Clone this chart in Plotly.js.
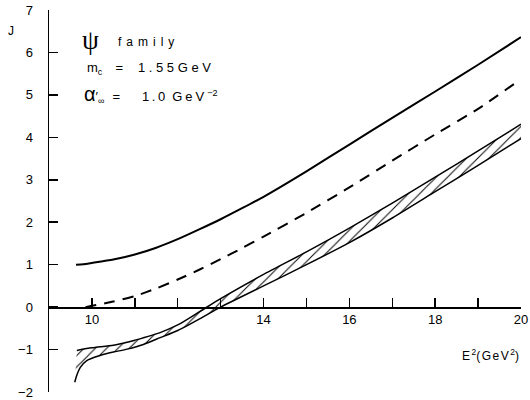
<!DOCTYPE html>
<html>
<head>
<meta charset="utf-8">
<script src="https://cdn.plot.ly/plotly-3.0.1.min.js"></script>
<style>
html,body{margin:0;padding:0;background:#fff;}
#chart{width:530px;height:400px;}
</style>
</head>
<body>
<div id="chart"></div>
<script>
// Solid curve
const solidX = [9.63, 9.8, 10, 10.5, 11, 11.5, 12, 12.5, 13, 13.5, 14, 15, 16, 17, 18, 19, 20];
const solidY = [1.0, 1.01, 1.04, 1.12, 1.24, 1.4, 1.6, 1.83, 2.07, 2.33, 2.6, 3.2, 3.83, 4.46, 5.08, 5.71, 6.36];
// Dashed curve
const dashX = [9.85, 10, 10.5, 11, 11.5, 12, 12.5, 13, 13.5, 14, 15, 16, 17, 18, 19, 19.87];
const dashY = [0.0, 0.03, 0.13, 0.26, 0.44, 0.65, 0.88, 1.13, 1.39, 1.66, 2.22, 2.82, 3.45, 4.07, 4.67, 5.28];
// Hatched band: upper edge
const bandUpX = [9.65, 10, 10.5, 10.82, 11, 11.59, 12, 12.52, 13, 14, 15, 16, 17, 18, 19, 20];
const bandUpY = [-1.02, -0.96, -0.9, -0.83, -0.78, -0.6, -0.42, -0.1, 0.2, 0.77, 1.3, 1.86, 2.45, 3.06, 3.68, 4.31];
// Hatched band: lower edge
const bandLoX = [9.6, 9.65, 9.73, 9.88, 10.19, 10.5, 10.82, 11.2, 11.59, 12, 12.52, 13, 14, 15, 16, 17, 18, 19, 20];
const bandLoY = [-1.77, -1.6, -1.42, -1.26, -1.14, -1.06, -0.99, -0.88, -0.72, -0.55, -0.27, 0.0, 0.5, 1.0, 1.52, 2.1, 2.72, 3.34, 3.97];
// Axis ticks
const xTickVals = [10, 11, 12, 13, 14, 15, 16, 17, 18, 19, 20];
const xTickText = ['10', '', '', '', '14', '', '16', '', '18', '', '20'];
const yTickVals = [-2, -1, 0, 1, 2, 3, 4, 5, 6, 7];

const xRange = [9.0, 20.0];
const yRange = [-2.0, 7.0];

const sp = {shape: 'spline', smoothing: 0.6};
const traces = [
  {x: solidX, y: solidY, mode: 'lines', line: Object.assign({color: '#000', width: 2}, sp), hoverinfo: 'skip'},
  {x: dashX, y: dashY, mode: 'lines', line: Object.assign({color: '#000', width: 2, dash: '11px,8px'}, sp), hoverinfo: 'skip'},
  {x: bandLoX, y: bandLoY, mode: 'lines', line: Object.assign({color: '#000', width: 1.5}, sp), hoverinfo: 'skip'},
  {x: bandUpX, y: bandUpY, mode: 'lines', line: Object.assign({color: '#000', width: 1.5}, sp),
   fill: 'tonexty', fillcolor: 'rgba(0,0,0,0)',
   fillpattern: {shape: '/', size: 8, solidity: 0.12, fgcolor: '#000', bgcolor: 'rgba(255,255,255,0)'},
   hoverinfo: 'skip'},
  // empty trace so the overlay axis (inward y ticks) is drawn
  {x: [], y: [], yaxis: 'y2', mode: 'lines', hoverinfo: 'skip'}
];

const fam = 'Liberation Sans, Arial, sans-serif';
const tickFont = {family: fam, size: 13, color: '#000'};
const txtFont = {family: fam, size: 13, color: '#000'};
const ls = (s, px) => '<span style="letter-spacing:' + px + 'px">' + s + '</span>';

const layout = {
  width: 530, height: 400,
  margin: {l: 49, r: 9, t: 10, b: 8, pad: 0},
  paper_bgcolor: '#fff', plot_bgcolor: '#fff',
  showlegend: false,
  xaxis: {
    range: xRange, anchor: 'free', position: (0 - yRange[0]) / (yRange[1] - yRange[0]),
    showgrid: false, zeroline: false, showline: true, linecolor: '#000', linewidth: 1.5,
    ticks: 'inside', ticklen: 9, tickwidth: 1.5, tickcolor: '#000',
    tickmode: 'array', tickvals: xTickVals, ticktext: xTickText,
    tickfont: tickFont
  },
  // labelled axis: outside ticks made transparent so labels sit clear of the axis
  yaxis: {
    range: yRange, showgrid: false, zeroline: false, showline: true, linecolor: '#000', linewidth: 1.5,
    ticks: 'outside', ticklen: 9, tickwidth: 1.5, tickcolor: 'rgba(0,0,0,0)',
    tickmode: 'array', tickvals: yTickVals, ticklabelstandoff: 3,
    tickfont: tickFont
  },
  // overlay axis: the visible inward ticks
  yaxis2: {
    range: yRange, overlaying: 'y', anchor: 'x', side: 'left', showgrid: false, zeroline: false,
    showline: false, ticks: 'inside', ticklen: 9, tickwidth: 1.5, tickcolor: '#000',
    tickmode: 'array', tickvals: yTickVals, showticklabels: false
  },
  annotations: [
    {xref: 'paper', yref: 'paper', x: -0.08, y: 0.945, text: 'J', showarrow: false, xanchor: 'center', yanchor: 'middle', font: {family: fam, size: 12, color: '#000'}},
    {xref: 'x', yref: 'y', x: 9.72, y: 6.3, text: 'ψ', showarrow: false, xanchor: 'left', yanchor: 'middle', font: {family: 'Liberation Serif, DejaVu Serif, serif', size: 27, color: '#000'}},
    {xref: 'x', yref: 'y', x: 10.55, y: 6.24, text: ls('family', 5), showarrow: false, xanchor: 'left', yanchor: 'middle', font: {family: fam, size: 12, color: '#000'}},
    {xref: 'x', yref: 'y', x: 9.85, y: 5.62, text: 'm<sub>' + ls('c', 13) + '</sub>' + ls('=', 15) + ls('1.55GeV', 3.6), showarrow: false, xanchor: 'left', yanchor: 'middle', font: txtFont},
    {xref: 'x', yref: 'y', x: 9.78, y: 5.0, text: '<span style="font-size:20px">α</span>′<sub>' + ls('∞', 8) + '</sub>' + ls('=', 22) + ls('1.', 2.5) + ls('0', 7) + ls('GeV', 3) + '<sup>−2</sup>', showarrow: false, xanchor: 'left', yanchor: 'middle', font: txtFont},
    {xref: 'paper', yref: 'paper', x: 1.0, y: 0.097, text: ls('E', 1.5) + '<sup>2</sup>' + ls('(GeV', 1.5) + '<sup>2</sup>)', showarrow: false, xanchor: 'right', yanchor: 'middle', font: {family: fam, size: 12, color: '#000'}}
  ]
};

Plotly.newPlot('chart', traces, layout, {staticPlot: true, displayModeBar: false});
</script>
</body>
</html>
